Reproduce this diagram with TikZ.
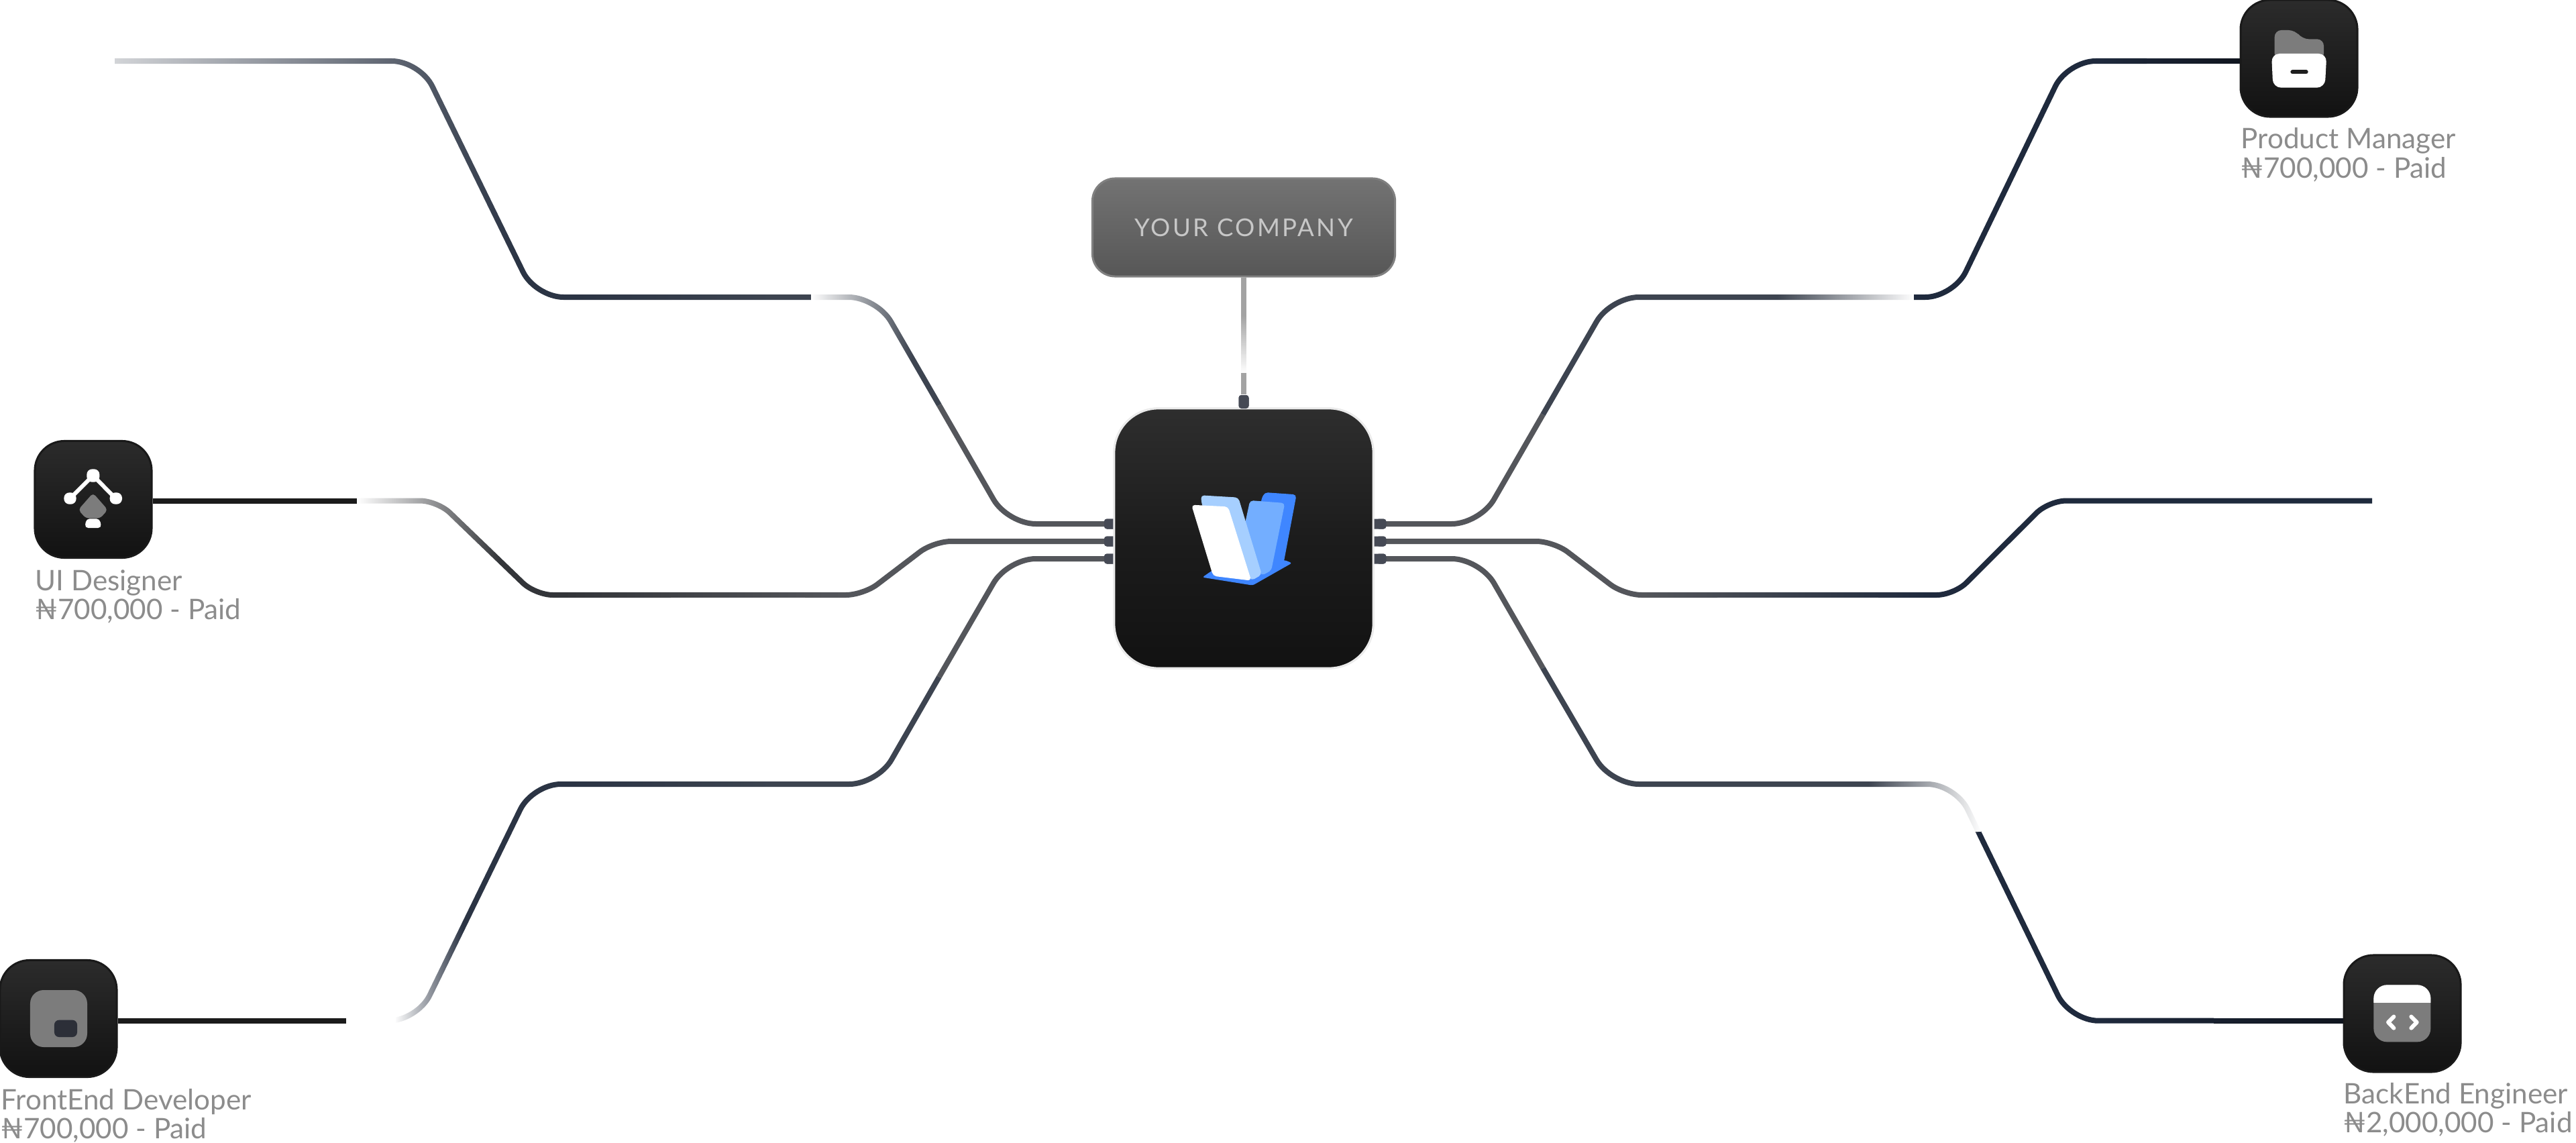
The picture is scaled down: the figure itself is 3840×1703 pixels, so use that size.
\documentclass[tikz,border=0pt]{standalone}
\usepackage{fontspec}
\setmainfont{Lato}
\usetikzlibrary{fadings,calc}
\definecolor{navy}{HTML}{1F2A3D}
\definecolor{navyd}{HTML}{10151F}
\definecolor{navym}{HTML}{2B3444}
\definecolor{slatec}{HTML}{3D4450}
\definecolor{grayw}{HTML}{54565B}
\definecolor{blackw}{HTML}{1B1B1B}
\definecolor{darkw}{HTML}{333539}
\definecolor{midw}{HTML}{44474D}
\definecolor{portc}{HTML}{464A55}
\definecolor{labelc}{HTML}{8C8C8C}
\definecolor{iconw}{HTML}{7C7C7C}
\definecolor{chipc}{HTML}{2C2F38}
\definecolor{lb}{HTML}{A6CFFF}
\definecolor{mb}{HTML}{73AEFF}
\definecolor{db}{HTML}{3F86FF}
\tikzfading[name=fadeToRight, left color=transparent!100, right color=transparent!0]
\tikzfading[name=fadeFromLeft, left color=transparent!0, right color=transparent!100]
\tikzfading[name=fadeLong, left color=transparent!20, right color=transparent!100]
\tikzfading[name=fadeDown, top color=transparent!100, bottom color=transparent!0]
% colour change along a straight horizontal stretch of a wire
\newcommand{\wireblend}[5]{\shade[left color=#4,right color=#5] (#1,#3-3.2) rectangle (#2,#3+3.2);}
\tikzset{
  wire/.style={line width=0.08cm, rounded corners=0.42cm},
  wiretight/.style={line width=0.08cm, rounded corners=0.26cm},
  wireflat/.style={line width=0.08cm},
  tile/.style={rectangle, inner sep=0pt, minimum width=1.74cm, minimum height=1.74cm, rounded corners=0.44cm,
    top color=black!83, bottom color=black!93, draw=black!90, line width=0.03cm},
  hub/.style={rectangle, inner sep=0pt, minimum width=3.86cm, minimum height=3.87cm, rounded corners=0.66cm,
    top color=black!82, bottom color=black!93, middle color=black!89, draw=black!8, line width=0.03cm},
  plug/.style={rectangle, inner sep=0pt, rounded corners=0.04cm, fill=portc},
  plugh/.style={plug, minimum width=0.22cm, minimum height=0.15cm},
  plugv/.style={plug, minimum width=0.15cm, minimum height=0.20cm},
  badge/.style={rectangle, inner sep=0pt, minimum width=4.51cm, minimum height=1.46cm, rounded corners=0.34cm,
    top color=black!55, bottom color=black!66, draw=black!50, line width=0.03cm, text=black!22,
    font=\fontsize{10.4pt}{12pt}\selectfont\addfontfeatures{LetterSpace=9}},
  caption/.style={inner sep=0pt, anchor=base west, align=left, text=labelc,
    font=\fontsize{12pt}{12.23pt}\selectfont},
}
\begin{document}
\begin{tikzpicture}[x=0.01cm,y=-0.01cm]
\useasboundingbox (0,0) rectangle (3840,1703);
\fill[white] (0,0) rectangle (3840,1703);

% named points
\coordinate (ltfree) at (171,91);
\coordinate (lt1) at (626,91);   \coordinate (lt2) at (798,443);
\coordinate (lts) at (1000,443); \coordinate (lt3) at (1307,443);
\coordinate (ltm) at (1400,604); \coordinate (lt4) at (1502,781);
\coordinate (lm0) at (532,746.5); \coordinate (lm1) at (652,746.5); \coordinate (lm2) at (798,887);
\coordinate (lms) at (1000,887);  \coordinate (lmt) at (1200,887);
\coordinate (lm3) at (1287,887);  \coordinate (lm4) at (1392,807);
\coordinate (ll0) at (516,1521.7); \coordinate (ll1) at (622,1521.7); \coordinate (ll2) at (794,1169);
\coordinate (lls) at (1000,1169);  \coordinate (ll3) at (1308,1169);
\coordinate (llm) at (1400,1009);  \coordinate (ll4) at (1502,833);
\coordinate (rt1) at (2206,781); \coordinate (rtm) at (2300,618); \coordinate (rt2) at (2401,443);
\coordinate (rt3) at (2853,443); \coordinate (rt4) at (2912,443); \coordinate (rt5) at (3082,91);
\coordinate (rts) at (3200,91);
\coordinate (rm1) at (2316,807); \coordinate (rm2) at (2421,887); \coordinate (rm3) at (2560,887);
\coordinate (rm4) at (2800,887); \coordinate (rm5) at (2913,887); \coordinate (rm6) at (3054,746.5);
\coordinate (rmfree) at (3536,746.5);
\coordinate (rl1) at (2206,833); \coordinate (rlm) at (2300,996); \coordinate (rl2) at (2401,1169);
\coordinate (rls) at (2700,1169); \coordinate (rl3) at (2915,1169); \coordinate (rl4) at (2949,1240);
\coordinate (rl5) at (3086,1521.7); \coordinate (rlt) at (3300,1521.7);

% nodes
\node[hub] (hub) at (1854,802.5) {};
\node[badge] (co) at (1854,339) {YOUR COMPANY};
\node[tile] (pm) at (3427,87) {};
\node[tile] (ui) at (139,744.5) {};
\node[tile] (fe) at (87,1518.5) {};
\node[tile] (be) at (3581,1511) {};
\node[plugh] (pl1) at (1657,781) {};
\node[plugh] (pl2) at (1657,807) {};
\node[plugh] (pl3) at (1657,833) {};
\node[plugh] (pr1) at (2055,781) {};
\node[plugh] (pr2) at (2055,807) {};
\node[plugh] (pr3) at (2055,833) {};
\node[plugv] (pt) at (1854,599) {};

% connectors
\draw[wire,color=navym] (ltfree) -- (lt1) -- (lt2) -- (lts);
\draw[wire,color=slatec] (lts) -- (lt3) -- (ltm);
\draw[wire,color=grayw] (ltm) -- (lt4) -- (pl1.center);
\wireblend{860}{1150}{443}{navym}{slatec}

\draw[wireflat,color=blackw] (ui.east |- lm0) -- (lm0);
\draw[wiretight,color=darkw] (lm0) -- (lm1) -- (lm2) -- (lms);
\draw[wireflat,color=midw] (lms) -- (lmt);
\draw[wiretight,color=grayw] (lmt) -- (lm3) -- (lm4) -- (pl2.center);
\wireblend{840}{1255}{887}{darkw}{grayw}

\draw[wireflat,color=blackw] (fe.east |- ll0) -- (ll0);
\draw[wire,color=navym] (ll0) -- (ll1) -- (ll2) -- (lls);
\draw[wire,color=slatec] (lls) -- (ll3) -- (llm);
\draw[wire,color=grayw] (llm) -- (ll4) -- (pl3.center);
\wireblend{850}{1150}{1169}{navym}{slatec}

\draw[wire,color=grayw] (pr1.center) -- (rt1) -- (rtm);
\draw[wire,color=slatec] (rtm) -- (rt2) -- (rt3);
\draw[wire,color=navy] (rt3) -- (rt4) -- (rt5) -- (rts);
\draw[wireflat,color=navyd] (rts) -- (pm.west |- rts);
\wireblend{3130}{3338}{91}{navy}{navyd}

\draw[wiretight,color=grayw] (pr2.center) -- (rm1) -- (rm2) -- (rm3);
\draw[wireflat,color=slatec] (rm3) -- (rm4);
\draw[wiretight,color=navy] (rm4) -- (rm5) -- (rm6) -- (rmfree);
\wireblend{2450}{2880}{887}{grayw}{navy}

\draw[wire,color=grayw] (pr3.center) -- (rl1) -- (rlm);
\draw[wire,color=slatec] (rlm) -- (rl2) -- (rls);
\draw[wire,color=slatec] (rls) -- (rl3) -- (rl4);
\draw[wire,color=navy] (rl4) -- (rl5) -- (rlt);
\draw[wireflat,color=navyd] (rlt) -- (be.west |- rlt);
\wireblend{3130}{3491}{1521.7}{navy}{navyd}

\draw[wireflat,color=black!36] (co.south) -- (pt.north);

% fades along the connectors
\fill[white,path fading=fadeLong] (165,70) rectangle (770,400);
\fill[white,path fading=fadeFromLeft] (1209,420) rectangle (1360,560);
\fill[white,path fading=fadeFromLeft] (532,725) rectangle (745,850);
\fill[white] (516,1500) rectangle (590,1545);
\fill[white,path fading=fadeFromLeft] (588,1370) rectangle (690,1545);
\fill[white,path fading=fadeToRight] (2650,420) rectangle (2853,465);
\fill[white,path fading=fadeToRight] (2785,1150) rectangle (2953,1240);
\fill[white,path fading=fadeDown] (1840,470) rectangle (1868,556);

% redraw node bodies above the wire ends
\node[plugh] at (pl1) {}; \node[plugh] at (pl2) {}; \node[plugh] at (pl3) {};
\node[hub] at (hub) {};
\node[plugh,minimum width=0.15cm] at (2059,781) {};
\node[plugh,minimum width=0.15cm] at (2059,807) {};
\node[plugh,minimum width=0.15cm] at (2059,833) {};
\node[plugv] at (pt) {};

% logo
\begin{scope}[shift={(1640,700)},scale=1/3]
  \fill[db,rounded corners=0.03cm] (457,482) -- (500,452) -- (825,405) -- (858,418) -- (682,518) -- cycle;
  \fill[db,rounded corners=0.05cm] (718,140) -- (735,102) -- (878,112) -- (820,420) -- (760,455) -- cycle;
  \fill[mb,rounded corners=0.05cm] (648,240) -- (670,138) -- (826,150) -- (765,452) -- (720,475) -- cycle;
  \fill[lb,rounded corners=0.05cm] (455,160) -- (450,115) -- (618,125) -- (723,470) -- (676,497) -- cycle;
  \fill[white,rounded corners=0.05cm] (408,158) -- (572,166) -- (676,497) -- (505,476) -- cycle;
\end{scope}

% product manager icon
\begin{scope}[shift={(3300,0)},scale=1/3]
  \fill[iconw,rounded corners=0.1cm] (272,270) -- (272,135) -- (365,135) -- (395,175) -- (492,175) -- (492,270) -- cycle;
  \fill[white,rounded corners=0.12cm] (258,240) -- (505,240) -- (497,392) -- (265,392) -- cycle;
  \draw[black!88,line width=0.06cm,line cap=round] (352,322) -- (413,322);
\end{scope}

% ui designer icon
\begin{scope}[shift={(0,640)},scale=1/3]
  \draw[white,line width=0.06cm] (313,310) -- (416,207) -- (518,310);
  \fill[white,rounded corners=0.08cm] (388,178) rectangle (445,236);
  \fill[white,rounded corners=0.08cm] (286,283) rectangle (341,335);
  \fill[white,rounded corners=0.08cm] (491,283) rectangle (546,335);
  \fill[iconw,rounded corners=0.05cm] (416,285) -- (482,360) -- (448,398) -- (384,398) -- (350,360) -- cycle;
  \fill[white,rounded corners=0.05cm] (386,400) -- (446,400) -- (454,441) -- (379,441) -- cycle;
\end{scope}

% frontend icon
\begin{scope}[shift={(0,1410)},scale=1/3]
  \fill[iconw,rounded corners=0.2cm] (135,198) rectangle (390,453);
  \fill[chipc,rounded corners=0.07cm] (243,332) rectangle (345,408);
\end{scope}

% backend icon
\begin{scope}[shift={(3440,1400)},scale=1/3]
  \fill[iconw,rounded corners=0.2cm] (295,205) rectangle (550,460);
  \begin{scope}
    \clip (295,205) rectangle (550,283);
    \fill[white,rounded corners=0.2cm] (295,205) rectangle (550,460);
  \end{scope}
  \draw[white,line width=0.06cm,line cap=round,line join=round] (385,347) -- (360,372) -- (385,398);
  \draw[white,line width=0.06cm,line cap=round,line join=round] (463,347) -- (488,372) -- (463,398);
\end{scope}

% captions
\node[caption] (pmt) at (3340,265) {Product Manager\\₦700,000 - Paid};
\node[caption] (uit) at (52,923) {UI Designer\\₦700,000 - Paid};
\node[caption] (fet) at (1,1697) {FrontEnd Developer\\₦700,000 - Paid};
\node[caption] (bet) at (3493,1688) {BackEnd Engineer\\₦2,000,000 - Paid};
\end{tikzpicture}
\end{document}
